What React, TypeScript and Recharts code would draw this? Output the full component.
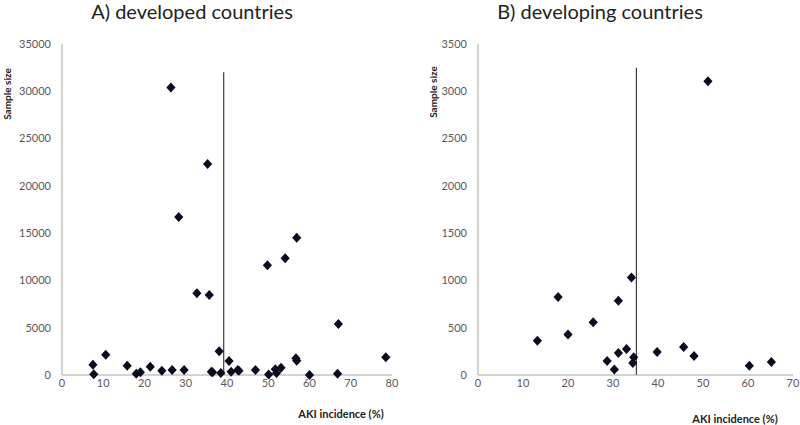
import React from 'react';
import { ScatterChart, Scatter, XAxis, YAxis, ReferenceLine } from 'recharts';

// A) developed countries: AKI incidence (%) vs sample size
const developedIncidence = [
  26.4, 35.3, 28.3, 56.9, 54.1, 49.8, 32.7, 35.7, 67.0, 38.1, 78.5, 10.6, 7.5, 7.7, 15.8, 18.0, 19.0,
  21.4, 24.2, 26.7, 29.6, 36.2, 36.5, 38.5, 40.5, 41.0, 42.6, 42.9, 46.9, 50.1, 51.7, 52.0, 53.1,
  56.7, 56.9, 60.0, 66.8,
];
const developedSampleSize = [
  30400, 22300, 16700, 14500, 12350, 11600, 8640, 8460, 5390, 2500, 1870, 2150, 1090, 80, 980, 120, 280,
  880, 460, 530, 530, 350, 300, 210, 1480, 350, 530, 450, 530, 40, 600, 210, 770,
  1760, 1510, 0, 140,
];

// B) developing countries
const developingIncidence = [
  51.1, 34.1, 17.8, 31.2, 25.6, 20.0, 13.2, 33.0, 31.2, 28.7, 30.3, 34.6, 34.4, 39.8, 45.7, 48.0,
  60.3, 65.2,
];
const developingSampleSize = [
  3105, 1030, 825, 786, 557, 427, 363, 275, 232, 148, 57, 187, 127, 243, 296, 201,
  99, 137,
];

const developedTicksX = [0, 10, 20, 30, 40, 50, 60, 70, 80];
const developedTicksY = [0, 5000, 10000, 15000, 20000, 25000, 30000, 35000];
const developingTicksX = [0, 10, 20, 30, 40, 50, 60, 70];
const developingTicksY = [0, 500, 1000, 1500, 2000, 2500, 3000, 3500];

// vertical marker lines (x position, top)
const developedLine = { x: 39.2, top: 32000 };
const developingLine = { x: 35.2, top: 3250 };

const toPoints = (xs: number[], ys: number[]) => xs.map((x, i) => ({ x, y: ys[i] }));

const FONT = 'Lato, "Liberation Sans", sans-serif';
const AXIS = '#a6a6a6';
const TICK = { fill: '#595959', fontSize: 11, fontFamily: FONT };

const Diamond = (props: any) => {
  const { cx, cy } = props;
  if (cx == null || cy == null) return null;
  const r = 4.6;
  return (
    <path
      d={`M${cx},${cy - r - 0.4}L${cx + r},${cy}L${cx},${cy + r + 0.4}L${cx - r},${cy}Z`}
      fill="#0b0b1f"
    />
  );
};

function Panel({
  left,
  title,
  data,
  xTicks,
  yTicks,
  yAxisWidth,
  rightMargin,
  line,
  titleX,
  yLabelX,
  yLabelY,
  xLabelX,
  xLabelY,
}: any) {
  const xMax = xTicks[xTicks.length - 1];
  const yMax = yTicks[yTicks.length - 1];
  return (
    <div style={{ position: 'absolute', left, top: 0, width: 400, height: 425 }}>
      <ScatterChart
        width={400}
        height={425}
        margin={{ top: 44, right: rightMargin, bottom: 20, left: 0 }}
        style={{ position: 'absolute', left: 0, top: 0 }}
      >
        <XAxis
          type="number"
          dataKey="x"
          domain={[0, xMax]}
          ticks={xTicks}
          tickLine={false}
          tickSize={0}
          tickMargin={4}
          height={30}
          stroke={AXIS}
          tick={TICK}
          interval={0}
        />
        <YAxis
          type="number"
          dataKey="y"
          domain={[0, yMax]}
          ticks={yTicks}
          tickLine={false}
          tickSize={0}
          tickMargin={11}
          width={yAxisWidth}
          stroke={AXIS}
          tick={TICK}
          interval={0}
        />
        <ReferenceLine
          segment={[
            { x: line.x, y: 0 },
            { x: line.x, y: line.top },
          ]}
          stroke="#3a3a3a"
          strokeWidth={1.2}
        />
        <Scatter data={data} shape={<Diamond />} isAnimationActive={false} />
      </ScatterChart>
      <div
        style={{
          position: 'absolute',
          left: titleX - 150,
          width: 300,
          top: 0,
          textAlign: 'center',
          fontFamily: FONT,
          fontSize: 20,
          color: '#222',
          lineHeight: '22px',
        }}
      >
        {title}
      </div>
      <div
        style={{
          position: 'absolute',
          left: yLabelX - 40,
          top: yLabelY - 7,
          width: 80,
          textAlign: 'center',
          transform: 'rotate(-90deg)',
          fontFamily: FONT,
          fontWeight: 'bold',
          fontSize: 10,
          lineHeight: '14px',
          color: '#222',
        }}
      >
        Sample size
      </div>
      <div
        style={{
          position: 'absolute',
          left: xLabelX - 60,
          top: xLabelY - 8,
          width: 120,
          textAlign: 'center',
          fontFamily: FONT,
          fontWeight: 'bold',
          fontSize: 11,
          lineHeight: '16px',
          color: '#222',
        }}
      >
        AKI incidence (%)
      </div>
    </div>
  );
}

export default function App() {
  return (
    <div style={{ position: 'relative', width: 800, height: 425, background: '#fff' }}>
      <style>{'body{margin:0;}'}</style>
      <Panel
        left={0}
        title="A) developed countries"
        data={toPoints(developedIncidence, developedSampleSize)}
        xTicks={developedTicksX}
        yTicks={developedTicksY}
        yAxisWidth={62}
        rightMargin={8}
        line={developedLine}
        titleX={192}
        yLabelX={7}
        yLabelY={94}
        xLabelX={341}
        xLabelY={414}
      />
      <Panel
        left={400}
        title="B) developing countries"
        data={toPoints(developingIncidence, developingSampleSize)}
        xTicks={developingTicksX}
        yTicks={developingTicksY}
        yAxisWidth={78}
        rightMargin={7}
        line={developingLine}
        titleX={200}
        yLabelX={33}
        yLabelY={92}
        xLabelX={335}
        xLabelY={419}
      />
    </div>
  );
}
